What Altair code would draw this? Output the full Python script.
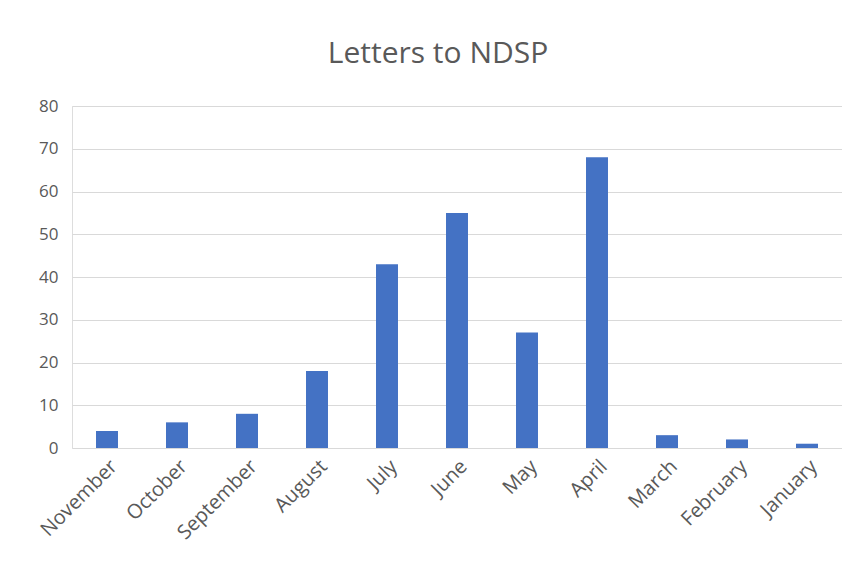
import altair as alt
import pandas as pd

months = ["November", "October", "September", "August", "July", "June",
          "May", "April", "March", "February", "January"]
letters = [4, 6, 8, 18, 43, 55, 27, 68, 3, 2, 1]

df = pd.DataFrame({"month": months, "letters": letters})

chart = alt.Chart(df).mark_bar(color="#4472C4").encode(
    x=alt.X("month:N", sort=months, title=None,
            scale=alt.Scale(paddingInner=0.686, paddingOuter=0.343),
            axis=alt.Axis(labelAngle=-45, labelFontSize=20, labelColor="#595959",
                          labelFont="Open Sans", ticks=False, domain=False,
                          labelPadding=8)),
    y=alt.Y("letters:Q", title=None,
            scale=alt.Scale(domain=[0, 80]),
            axis=alt.Axis(values=[0, 10, 20, 30, 40, 50, 60, 70, 80],
                          labelFontSize=17, labelColor="#595959", labelFont="Open Sans",
                          ticks=False, domain=False, labelPadding=14,
                          gridColor="#d9d9d9", gridWidth=1.2)),
).properties(
    width=770,
    height=342,
    title=alt.TitleParams("Letters to NDSP", fontSize=30, font="Open Sans",
                          fontWeight="normal", color="#595959", offset=28, dx=-19),
    autosize=alt.AutoSizeParams(type="none"),
    padding={"left": 64, "top": 98, "right": 0, "bottom": 112},
).configure_view(stroke=None).configure(background="white")

chart.save("out.html", embed_options={"renderer": "svg", "actions": False})
